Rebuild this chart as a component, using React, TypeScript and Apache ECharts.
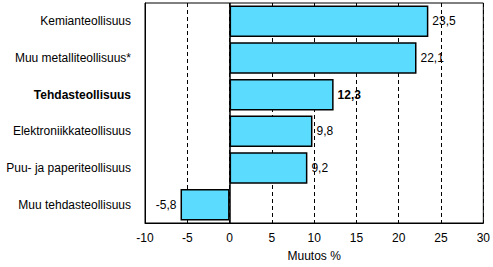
import React, { useEffect, useRef } from "react";
import * as echarts from "echarts";

const categories = [
  "Kemianteollisuus",
  "Muu metalliteollisuus*",
  "Tehdasteollisuus",
  "Elektroniikkateollisuus",
  "Puu- ja paperiteollisuus",
  "Muu tehdasteollisuus",
];
const values = [23.5, 22.1, 12.3, 9.8, 9.2, -5.8];
const boldCategory = "Tehdasteollisuus";
const xTicks = { min: -10, max: 30, interval: 5 };
const xName = "Muutos %";

export default function App() {
  const ref = useRef<HTMLDivElement>(null);
  useEffect(() => {
    if (!ref.current) return;
    const chart = echarts.init(ref.current, null, { renderer: "svg" });
    const font = "Liberation Sans, Arial, sans-serif";
    chart.setOption({
      animation: false,
      backgroundColor: "#fff",
      grid: {
        left: 145,
        right: 9,
        top: 3,
        bottom: 43,
        show: true,
        borderColor: "#000",
        borderWidth: 1,
        backgroundColor: "#fff",
      },
      xAxis: {
        type: "value",
        min: xTicks.min,
        max: xTicks.max,
        interval: xTicks.interval,
        name: xName,
        nameLocation: "middle",
        nameGap: 27,
        nameTextStyle: { fontFamily: font, fontSize: 12, color: "#000" },
        axisLine: { show: true, onZero: false, lineStyle: { color: "#000", width: 1 } },
        axisTick: { show: false },
        axisLabel: {
          fontFamily: font,
          fontSize: 12,
          color: "#000",
          margin: 9,
        },
        splitLine: {
          show: true,
          lineStyle: { color: "#000", type: [4, 3], width: 1 },
        },
      },
      yAxis: {
        type: "category",
        data: categories,
        inverse: true,
        axisLine: { show: true, onZero: false, lineStyle: { color: "#000", width: 1 } },
        axisTick: { show: false },
        axisLabel: {
          fontFamily: font,
          fontSize: 12,
          color: "#000",
          margin: 14,
          formatter: (v: string) => (v === boldCategory ? "{b|" + v + "}" : v),
          rich: {
            b: { fontFamily: font, fontSize: 12, fontWeight: "bold", color: "#000" },
          },
        },
        splitLine: { show: false },
      },
      series: [
        {
          type: "bar",
          data: values.map((v, i) => ({
            value: v,
            label: {
              position: v < 0 ? "left" : "right",
              fontWeight: categories[i] === boldCategory ? "bold" : "normal",
            },
          })),
          barCategoryGap: "14%",
          itemStyle: { color: "#5BDCFE", borderColor: "#000", borderWidth: 1.5 },
          label: {
            show: true,
            fontFamily: font,
            fontSize: 12,
            color: "#000",
            distance: 4,
            formatter: (p: any) => String(p.value).replace(".", ","),
          },
          markLine: {
            silent: true,
            symbol: "none",
            label: { show: false },
            lineStyle: { color: "#000", type: "solid", width: 1.5 },
            data: [{ xAxis: 0 }],
          },
        },
      ],
    });
    return () => chart.dispose();
  }, []);
  return (
    <div
      ref={ref}
      style={{ position: "fixed", left: 0, top: 0, width: 493, height: 267 }}
    />
  );
}
